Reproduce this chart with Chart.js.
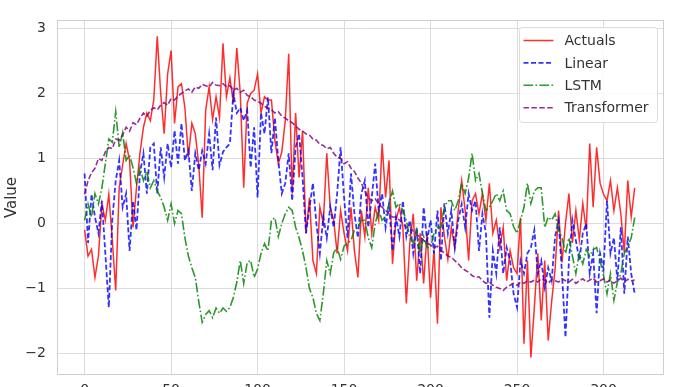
<!DOCTYPE html>
<html>
<head>
<meta charset="utf-8">
<script src="https://cdn.jsdelivr.net/npm/chart.js@4.4.1/dist/chart.umd.min.js"></script>
<style>
  html, body { margin: 0; padding: 0; background: #fff; overflow: hidden; }
  #wrap { width: 687px; height: 410px; }
</style>
</head>
<body>
<div id="wrap"><canvas id="predChart" width="687" height="410"></canvas></div>
<script>
// time index of every plotted sample (every second step, 0..318)
const timeSteps = Array.from({ length: 160 }, (_, k) => k * 2);

const xTicks = [0, 50, 100, 150, 200, 250, 300];
const yTicks = [-2, -1, 0, 1, 2, 3];

const actuals = [
  -0.1, -0.5, -0.4, -0.83, -0.5, 0.3, 0.05, 0.45, -0.25, -1.03,
  0.55, 0.9, 1.23, 0.97, -0.06, 0.55, 1.08, 1.48, 1.7, 1.58,
  1.9, 2.88, 2.0, 1.38, 2.3, 2.66, 1.54, 2.1, 2.15, 1.78,
  1.02, 1.54, 1.38, 0.9, 0.09, 1.74, 2.1, 1.6, 1.95, 1.63,
  2.77, 1.95, 2.24, 1.85, 2.7, 2.0, 0.55, 1.85, 2.0, 2.05,
  2.3, 1.7, 1.95, 1.9, 1.9, 1.28, 0.92, 1.1, 1.58, 2.61,
  0.46, 1.7, 0.71, 1.43, -0.15, 0.4, -0.57, -0.77, 0.25, 0.0,
  1.08, 0.25, 0.05, -0.46, 0.2, -0.15, -0.42, 0.25, -0.42, -0.83,
  0.2, -0.2, 0.55, -0.15, 0.25, 0.05, 1.23, 0.4, 0.97, -0.62,
  0.05, 0.25, -0.06, -1.23, -0.3, 0.15, -0.88, -0.15, -0.92, -0.15,
  -1.14, -0.4, -1.54, 0.25, -0.2, -0.55, -0.06, -0.37, 0.2, 0.66,
  0.2, -0.57, 0.35, 0.46, 0.15, 0.46, 0.05, 0.62, -0.15, 0.05,
  -0.37, -0.06, -0.88, -0.42, -0.68, -0.77, 0.09, -1.85, -0.57, -2.06,
  -1.29, -0.46, -1.49, -0.57, -1.8, -1.2, -0.7, 0.2, -0.6, 0.0,
  0.46, -0.3, 0.2, -0.25, 0.31, -0.1, 1.23, 0.25, 1.17, 0.62,
  0.45, 0.35, 0.66, 0.2, 0.55, 0.15, -0.45, 0.66, 0.1, 0.55
];

const linearPred = [
  0.77, -0.3, 0.45, 0.1, -0.15, 0.35, -0.46, -1.29, 0.05, 0.66,
  0.97, 0.25, 0.46, -0.42, 0.35, -0.1, 0.77, 1.08, 0.46, 1.17,
  1.23, 0.46, 1.17, 0.71, 1.23, 0.86, 1.43, 0.92, 1.54, 0.97,
  1.12, 0.5, 1.08, 0.82, 1.12, 0.92, 1.38, 0.82, 1.63, 0.9,
  1.1, 1.17, 1.23, 2.0, 1.7, 1.78, 1.58, 1.74, 0.86, 1.48,
  0.4, 1.7, 1.38, 1.94, 1.08, 1.63, 0.97, 0.46, 0.62, 1.08,
  0.35, 1.17, 1.38, 0.71, -0.15, 0.25, 0.62, 0.0, -0.46, 0.1,
  -0.22, 0.25, -0.06, 0.46, 1.17, 0.4, -0.22, 0.77, 0.15, -0.22,
  0.46, 0.66, -0.06, 0.4, 0.92, 0.2, 0.46, -0.06, 0.3, -0.42,
  0.1, -0.2, 0.35, -0.2, 0.05, -0.46, -0.06, -0.77, 0.25, -0.26,
  0.05, -0.46, 0.2, -0.57, 0.31, -0.15, 0.2, -0.37, 0.05, 0.3,
  -0.06, 0.46, 0.2, 0.35, -0.42, 0.15, -0.15, -1.45, -0.42, -0.77,
  -0.06, -0.77, -0.37, -0.57, -1.08, -1.29, -0.57, -0.77, -0.46, -0.37,
  -0.1, -0.77, -0.57, -0.98, -0.68, -0.88, -0.2, 0.05, -0.77, -1.75,
  -0.57, 0.05, -0.26, -0.57, -0.15, 0.0, -0.77, -0.46, -1.38, -0.46,
  -0.7, 0.35, -0.46, -0.22, -0.88, -0.06, -1.08, -0.2, -0.77, -1.08
];

const lstmPred = [
  0.05, 0.3, 0.1, 0.46, 0.3, 0.55, 0.92, 1.3, 1.25, 1.72,
  1.17, 1.4, 0.97, 1.05, 0.86, 0.62, 0.86, 0.66, 0.8, 0.55,
  0.66, 0.5, 0.4, 0.25, 0.05, 0.3, 0.0, 0.2, 0.15, -0.22,
  -0.5, -0.68, -0.83, -1.2, -1.52, -1.4, -1.34, -1.45, -1.3, -1.38,
  -1.3, -1.35, -1.29, -1.14, -0.9, -0.57, -0.92, -0.6, -0.57, -0.83,
  -0.7, -0.46, -0.31, -0.42, 0.05, 0.09, -0.2, 0.0, 0.15, 0.25,
  0.2, -0.06, -0.22, -0.42, -0.68, -1.0, -1.14, -1.38, -1.49, -1.08,
  -0.57, -0.77, -0.45, -0.37, -0.55, -0.35, -0.3, -0.26, -0.1, -0.06,
  0.05, 0.05, -0.22, -0.37, 0.0, 0.2, 0.05, 0.1, 0.3, 0.5,
  0.25, 0.31, 0.2, 0.05, -0.22, -0.3, -0.1, -0.46, -0.2, -0.37,
  -0.37, -0.15, -0.06, -0.06, 0.25, 0.35, 0.35, 0.2, 0.35, 0.62,
  0.46, 0.7, 1.08, 0.66, 0.77, 0.46, 0.2, 0.25, 0.35, 0.46,
  0.35, 0.5, 0.2, 0.15, -0.05, -0.15, 0.05, 0.25, 0.62, 0.31,
  0.5, 0.55, 0.55, -0.06, 0.1, 0.05, 0.15, -0.1, -0.22, -0.46,
  -0.22, -0.5, -0.77, -0.46, -0.62, -0.4, -0.5, -0.4, -0.37, -0.57,
  -0.8, -1.08, -0.77, -1.18, -0.9, -0.77, -0.46, -0.35, -0.22, 0.09
];

const transformerPred = [
  0.45, 0.66, 0.78, 0.85, 1.0, 0.97, 1.1, 1.17, 1.15, 1.3,
  1.28, 1.36, 1.48, 1.42, 1.55, 1.52, 1.62, 1.7, 1.65, 1.74,
  1.78, 1.75, 1.82, 1.86, 1.82, 1.92, 1.9, 1.96, 2.0, 2.04,
  2.07, 2.02, 2.1, 2.08, 2.14, 2.12, 2.1, 2.17, 2.13, 2.12,
  2.15, 2.1, 2.12, 2.05, 2.08, 2.02, 2.05, 1.97, 1.95, 1.9,
  1.88, 1.85, 1.8, 1.78, 1.75, 1.7, 1.72, 1.65, 1.62, 1.58,
  1.55, 1.5, 1.45, 1.42, 1.38, 1.36, 1.3, 1.28, 1.22, 1.2,
  1.15, 1.17, 1.08, 1.02, 1.0, 0.92, 0.95, 0.85, 0.8, 0.7,
  0.62, 0.5, 0.4, 0.35, 0.38, 0.3, 0.25, 0.2, 0.15, 0.1,
  0.1, 0.05, 0.0, -0.06, -0.05, -0.12, -0.18, -0.2, -0.26, -0.3,
  -0.33, -0.37, -0.35, -0.42, -0.45, -0.5, -0.52, -0.57, -0.62, -0.68,
  -0.72, -0.75, -0.8, -0.83, -0.82, -0.88, -0.92, -0.9, -0.95, -0.98,
  -1.0, -1.03, -0.98, -0.95, -0.92, -0.95, -0.9, -0.92, -0.88, -0.9,
  -0.87, -0.9, -0.85, -0.88, -0.92, -0.86, -0.88, -0.9, -0.85, -0.88,
  -0.9, -0.86, -0.92, -0.88, -0.85, -0.9, -0.87, -0.84, -0.9, -0.88,
  -0.85, -0.9, -0.87, -0.92, -0.88, -0.84, -0.9, -0.86, -0.88, -0.87
];

const FONT = '"DejaVu Sans", sans-serif';
const TEXT = '#333333';

// matplotlib style frame round the plot
const frame = {
  id: 'frame',
  afterDatasetsDraw(chart) {
    const { ctx, chartArea: a } = chart;
    ctx.save();
    ctx.strokeStyle = '#cfcfcf';
    ctx.lineWidth = 1;
    ctx.strokeRect(Math.round(a.left) + 0.5, Math.round(a.top) + 0.5,
      Math.round(a.right - a.left) - 1, Math.round(a.bottom - a.top) - 1);
    ctx.restore();
  }
};

// legend box inside the upper right corner, like plt.legend()
const legendBox = {
  id: 'legendBox',
  afterDraw(chart) {
    const { ctx, chartArea } = chart;
    const w = 138, h = 95;
    const x0 = Math.round(chartArea.right - 7 - w) + 0.5;
    const y0 = Math.round(chartArea.top + 7) + 0.5;
    ctx.save();
    ctx.beginPath();
    ctx.roundRect(x0, y0, w, h, 3);
    ctx.fillStyle = 'rgba(255,255,255,0.85)';
    ctx.fill();
    ctx.strokeStyle = '#dddddd';
    ctx.lineWidth = 1;
    ctx.stroke();
    ctx.font = '14px ' + FONT;
    ctx.textBaseline = 'middle';
    chart.data.datasets.forEach((ds, i) => {
      const y = y0 + 13 + i * 22.4;
      ctx.beginPath();
      ctx.setLineDash(ds.borderDash || []);
      ctx.strokeStyle = ds.borderColor;
      ctx.lineWidth = ds.borderWidth;
      ctx.moveTo(x0 + 4, y);
      ctx.lineTo(x0 + 34, y);
      ctx.stroke();
      ctx.setLineDash([]);
      ctx.fillStyle = TEXT;
      ctx.fillText(ds.label, x0 + 45, y + 1);
    });
    ctx.restore();
  }
};

const ctx = document.getElementById('predChart').getContext('2d');
new Chart(ctx, {
  type: 'line',
  data: {
    labels: timeSteps,
    datasets: [
      { label: 'Actuals', data: actuals, borderColor: 'rgba(255,0,0,0.82)', borderWidth: 1.5, order: 4 },
      { label: 'Linear', data: linearPred, borderColor: 'rgba(0,0,255,0.8)', borderWidth: 1.8, borderDash: [5, 2.5], order: 3 },
      { label: 'LSTM', data: lstmPred, borderColor: 'rgba(0,128,0,0.82)', borderWidth: 1.6, borderDash: [9.6, 2.4, 1.6, 2.4], order: 2 },
      { label: 'Transformer', data: transformerPred, borderColor: 'rgba(128,0,128,0.82)', borderWidth: 1.6, borderDash: [5.5, 2.4], order: 1 }
    ]
  },
  options: {
    responsive: false,
    animation: false,
    devicePixelRatio: 1,
    elements: {
      point: { radius: 0 },
      line: { tension: 0, fill: false }
    },
    layout: { padding: { top: 20, right: 23, left: 0, bottom: 0 } },
    plugins: {
      legend: { display: false },
      tooltip: { enabled: false }
    },
    scales: {
      x: {
        type: 'linear',
        min: -15.95,
        max: 334.95,
        afterBuildTicks: s => { s.ticks = xTicks.map(v => ({ value: v })); },
        afterFit: s => { s.height = 35; },
        grid: { color: '#dcdcdc', lineWidth: 1, drawTicks: false },
        border: { display: false },
        ticks: { color: TEXT, font: { family: FONT, size: 14 }, padding: 7, maxRotation: 0 }
      },
      y: {
        min: -2.33,
        max: 3.13,
        afterBuildTicks: s => { s.ticks = yTicks.map(v => ({ value: v })); },
        afterFit: s => { s.width = 57; },
        grid: { color: '#dcdcdc', lineWidth: 1, drawTicks: false },
        border: { display: false },
        ticks: {
          color: TEXT,
          font: { family: FONT, size: 14 },
          padding: 11,
          callback: v => String(v).replace('-', '\u2212')
        },
        title: { display: true, text: 'Value', color: TEXT, font: { family: FONT, size: 15 }, padding: { top: 3, bottom: 3 } }
      }
    }
  },
  plugins: [frame, legendBox]
});
</script>
</body>
</html>
